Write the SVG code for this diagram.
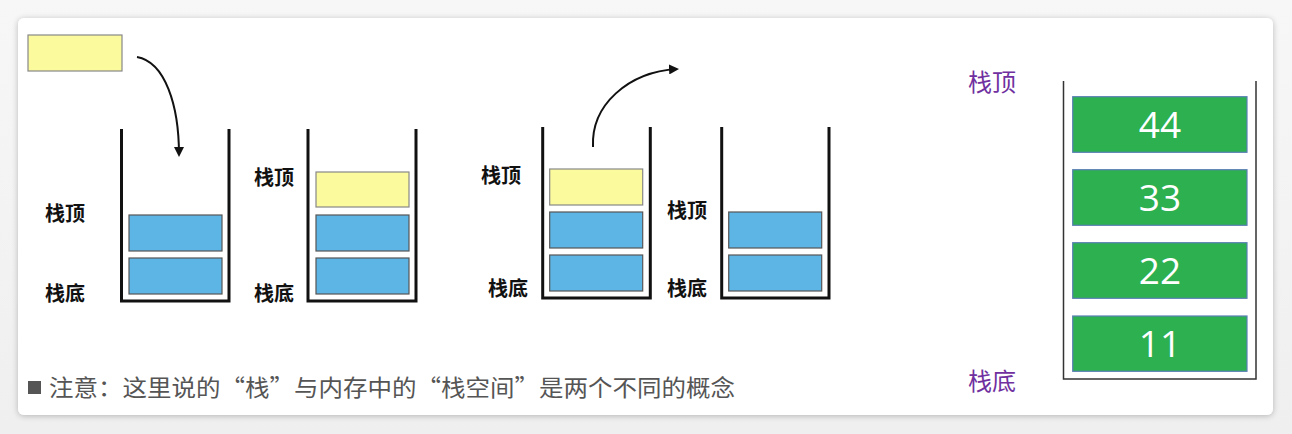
<svg xmlns="http://www.w3.org/2000/svg" width="1292" height="434" viewBox="0 0 1292 434">
<style>
.lbl{font-family:"Noto Sans CJK SC","Noto Sans",sans-serif;font-weight:bold;font-size:20px;fill:#111}
.plbl{font-family:"Noto Sans CJK SC","Noto Sans",sans-serif;font-size:24px;fill:#7030a0}
.cup{fill:none;stroke:#111;stroke-width:3}
.blue{fill:#5db5e6;stroke:#555;stroke-width:1.2}
.yel{fill:#fbfa9c;stroke:#888;stroke-width:1.2}
.grn{fill:#2cb050;stroke:#5a7fb5;stroke-width:1.2}
.num{font-family:"Open Sans","Noto Sans",sans-serif;font-size:37px;font-weight:500;fill:#fff;text-anchor:middle}
.note{font-family:"Noto Sans CJK SC","Noto Sans",sans-serif;font-size:23px;fill:#555}
.arr{fill:none;stroke:#111;stroke-width:2}
</style>
<defs>
<marker id="ah" viewBox="0 0 10 10" refX="8" refY="5" markerWidth="5" markerHeight="5" orient="auto">
<path d="M0,0 L10,5 L0,10 Z" fill="#111"/>
</marker>
<filter id="sh" x="-5%" y="-10%" width="110%" height="120%">
<feGaussianBlur in="SourceAlpha" stdDeviation="3"/>
<feOffset dy="1"/>
<feComponentTransfer><feFuncA type="linear" slope="0.25"/></feComponentTransfer>
<feMerge><feMergeNode/><feMergeNode in="SourceGraphic"/></feMerge>
</filter>
<linearGradient id="bg" x1="0" y1="0" x2="0" y2="1">
<stop offset="0" stop-color="#f7f7f7"/>
<stop offset="1" stop-color="#efefef"/>
</linearGradient>
</defs>
<rect x="0" y="0" width="1292" height="434" fill="url(#bg)"/>
<rect id="card" x="18" y="18" width="1255" height="397" rx="6" fill="#fff" filter="url(#sh)"/>

<g id="floating-item"><rect class="yel" x="28" y="35" width="94" height="36"/></g>

<g id="stack1">
<path class="cup" d="M121.5,129 V301 H229 V129"/>
<rect class="blue" x="129" y="215" width="93" height="36"/>
<rect class="blue" x="129" y="258" width="93" height="36"/>
<text class="lbl" x="45" y="221">栈顶</text>
<text class="lbl" x="45" y="301">栈底</text>
</g>

<g id="stack2">
<path class="cup" d="M308,129 V301 H416 V129"/>
<rect class="yel" x="316" y="172" width="93" height="35"/>
<rect class="blue" x="316" y="215" width="93" height="36"/>
<rect class="blue" x="316" y="258" width="93" height="36"/>
<text class="lbl" x="254" y="185">栈顶</text>
<text class="lbl" x="254" y="301">栈底</text>
</g>

<g id="stack3">
<path class="cup" d="M542.7,127 V298 H650.3 V127"/>
<rect class="yel" x="549.7" y="169" width="93" height="36"/>
<rect class="blue" x="549.7" y="212" width="93" height="36"/>
<rect class="blue" x="549.7" y="255" width="93" height="36"/>
<text class="lbl" x="481" y="183">栈顶</text>
<text class="lbl" x="488" y="296">栈底</text>
</g>

<g id="stack4">
<path class="cup" d="M721.7,127 V298 H829 V127"/>
<rect class="blue" x="728.7" y="212" width="93" height="36"/>
<rect class="blue" x="728.7" y="255" width="93" height="36"/>
<text class="lbl" x="667" y="218">栈顶</text>
<text class="lbl" x="667" y="296">栈底</text>
</g>

<g id="connectors">
<path class="arr" d="M137,57 C165,62 179,105 179,155" marker-end="url(#ah)"/>
<path class="arr" d="M593,147 C591,105 628,72 677,69" marker-end="url(#ah)"/>
</g>

<g id="stack-big">
<path d="M1063.5,81 V379 H1256 V81" fill="none" stroke="#333" stroke-width="1.5"/>
<rect class="grn" x="1072.7" y="96.7" width="174.3" height="55.6"/>
<rect class="grn" x="1072.7" y="169.7" width="174.3" height="55.6"/>
<rect class="grn" x="1072.7" y="242.7" width="174.3" height="55.6"/>
<rect class="grn" x="1072.7" y="316" width="174.3" height="55.3"/>
<text class="num" x="1160" y="138">44</text>
<text class="num" x="1160" y="211">33</text>
<text class="num" x="1160" y="284">22</text>
<text class="num" x="1160" y="357">11</text>
<text class="plbl" x="968" y="91">栈顶</text>
<text class="plbl" x="968" y="390">栈底</text>
</g>

<g id="note">
<rect x="28" y="381" width="13" height="13" fill="#555"/>
<text class="note" x="49" y="396" textLength="686" lengthAdjust="spacingAndGlyphs">注意：这里说的“栈”与内存中的“栈空间”是两个不同的概念</text>
</g>
</svg>
